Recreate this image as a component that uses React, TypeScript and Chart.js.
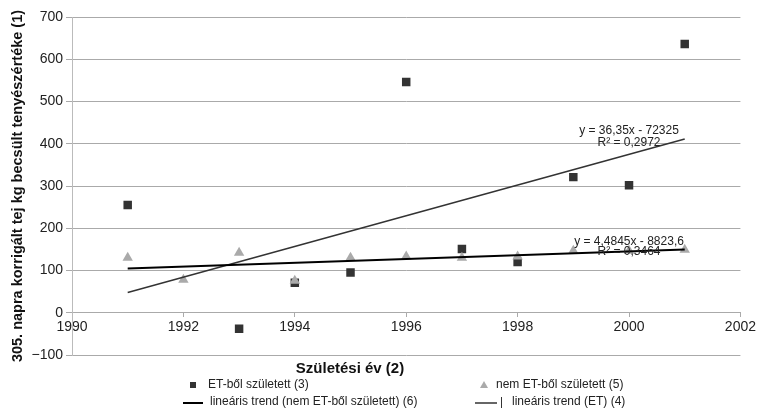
import { useEffect, useRef } from 'react';
import { Chart, registerables } from 'chart.js';
Chart.register(...registerables);

// ---- data ----
const etYears = [1991, 1993, 1994, 1995, 1996, 1997, 1998, 1999, 2000, 2001];
const etValues = [255, -38, 71, 95, 546, 151, 120, 321, 302, 636];
const nonEtYears = [1991, 1992, 1993, 1994, 1995, 1996, 1997, 1998, 1999, 2000, 2001];
const nonEtValues = [130, 78, 142, 76, 130, 133, 130, 133, 147, 147, 149];
const trendYears = [1991, 2001];
const etTrendValues = [47.9, 411.4];
const nonEtTrendValues = [105.0, 149.9];
const yTicks = [-100, 0, 100, 200, 300, 400, 500, 600, 700];
const xTicks = [1990, 1992, 1994, 1996, 1998, 2000, 2002];

const yTitle = '305. napra korrigált tej kg becsült tenyészértéke (1)';
const xTitle = 'Születési év (2)';
const legendLabels = [
  'ET-ből született (3)',
  'nem ET-ből született (5)',
  'lineáris trend (nem ET-ből született) (6)',
  'lineáris trend (ET) (4)',
];
const eqLabels = [
  { text: 'y = 36,35x - 72325', x: 2000, y: 430 },
  { text: 'R² = 0,2972', x: 2000, y: 402 },
  { text: 'y = 4,4845x - 8823,6', x: 2000, y: 168 },
  { text: 'R² = 0,3464', x: 2000, y: 145 },
];

const FONT = '"Liberation Sans", Arial, sans-serif';

const extrasPlugin = {
  id: 'extras',
  afterDraw(chart: any) {
    const ctx = chart.ctx;
    const xs = chart.scales.x;
    const ys = chart.scales.y;
    ctx.save();
    // equation labels
    ctx.fillStyle = '#222';
    ctx.font = `12px ${FONT}`;
    ctx.textAlign = 'center';
    ctx.textBaseline = 'middle';
    eqLabels.forEach((l) => {
      ctx.fillText(l.text, xs.getPixelForValue(l.x), ys.getPixelForValue(l.y));
    });
    // x title
    ctx.font = `bold 15px ${FONT}`;
    ctx.fillStyle = '#111';
    ctx.fillText(xTitle, 350, 369);
    // legend
    ctx.font = `12px ${FONT}`;
    ctx.textAlign = 'left';
    // item 1: square
    ctx.fillStyle = '#333';
    ctx.fillRect(190, 382, 6, 6);
    ctx.fillStyle = '#222';
    ctx.fillText(legendLabels[0], 208, 385);
    // item 2: triangle
    ctx.fillStyle = '#aaa';
    ctx.beginPath();
    ctx.moveTo(484, 381);
    ctx.lineTo(488, 388);
    ctx.lineTo(480, 388);
    ctx.closePath();
    ctx.fill();
    ctx.fillStyle = '#222';
    ctx.fillText(legendLabels[1], 496, 385);
    // item 3: thick line
    ctx.strokeStyle = '#000';
    ctx.lineWidth = 2;
    ctx.beginPath();
    ctx.moveTo(183, 403);
    ctx.lineTo(203, 403);
    ctx.stroke();
    ctx.fillText(legendLabels[2], 210, 402);
    // item 4: thin line + bar
    ctx.strokeStyle = '#333';
    ctx.lineWidth = 1.5;
    ctx.beginPath();
    ctx.moveTo(475, 403);
    ctx.lineTo(497, 403);
    ctx.stroke();
    ctx.lineWidth = 1;
    ctx.beginPath();
    ctx.moveTo(501.5, 397);
    ctx.lineTo(501.5, 408);
    ctx.stroke();
    ctx.fillText(legendLabels[3], 512, 402);
    ctx.restore();
  },
};

export default function App() {
  const ref = useRef<HTMLCanvasElement>(null);
  useEffect(() => {
    document.body.style.margin = '0';
    const toPts = (xs: number[], vs: number[]) => xs.map((x, i) => ({ x, y: vs[i] }));
    const chart = new Chart(ref.current!, {
      type: 'scatter',
      data: {
        datasets: [
          {
            label: legendLabels[2],
            type: 'line',
            data: toPts(trendYears, nonEtTrendValues),
            borderColor: '#000',
            borderWidth: 2,
            pointRadius: 0,
            showLine: true,
            fill: false,
          } as any,
          {
            label: legendLabels[3],
            type: 'line',
            data: toPts(trendYears, etTrendValues),
            borderColor: '#333',
            borderWidth: 1.5,
            pointRadius: 0,
            showLine: true,
            fill: false,
          } as any,
          {
            label: legendLabels[1],
            data: toPts(nonEtYears, nonEtValues),
            pointStyle: 'triangle',
            pointRadius: 6,
            backgroundColor: '#aaaaaa',
            borderColor: '#aaaaaa',
            borderWidth: 0,
          },
          {
            label: legendLabels[0],
            data: toPts(etYears, etValues),
            pointStyle: 'rect',
            pointRadius: 6,
            backgroundColor: '#333333',
            borderColor: '#333333',
            borderWidth: 0,
          },
        ],
      },
      options: {
        animation: false,
        responsive: false,
        maintainAspectRatio: false,
        layout: { padding: { top: 17, right: 15, bottom: 65, left: 0 } },
        plugins: {
          legend: { display: false },
          tooltip: { enabled: false },
        },
        scales: {
          x: {
            type: 'linear',
            position: { y: 0 } as any,
            min: 1990,
            max: 2002,
            afterBuildTicks: (s: any) => {
              s.ticks = xTicks.map((v) => ({ value: v }));
            },
            ticks: {
              callback: (v: any) => String(v),
              font: { family: FONT, size: 14 },
              color: '#222',
              padding: 2,
              maxRotation: 0,
              autoSkip: false,
            },
            grid: {
              drawOnChartArea: false,
              drawTicks: true,
              tickLength: 4,
              tickColor: '#aaa',
            },
            border: { display: true, color: '#aaa', width: 1 },
          },
          y: {
            type: 'linear',
            min: -100,
            max: 700,
            afterBuildTicks: (s: any) => {
              s.ticks = yTicks.map((v) => ({ value: v }));
            },
            afterFit: (s: any) => {
              s.width = 72;
            },
            ticks: {
              callback: (v: any) => (v < 0 ? '\u2212' + Math.abs(v) : String(v)),
              font: { family: FONT, size: 14 },
              color: '#222',
              padding: 3,
            },
            grid: {
              color: '#aaaaaa',
              tickColor: '#aaaaaa',
              tickLength: 6,
              lineWidth: 1,
            },
            border: { display: true, color: '#bbb', width: 1 },
            title: {
              display: true,
              text: yTitle,
              font: { family: '"Liberation Sans Narrow", "Liberation Sans", Arial, sans-serif', size: 14.5, weight: 'bold' },
              color: '#111',
              padding: { top: 9, bottom: 0 },
            },
          },
        },
      },
      plugins: [extrasPlugin],
    });
    return () => chart.destroy();
  }, []);
  return (
    <div style={{ width: 758, height: 420, background: '#fff' }}>
      <canvas ref={ref} width={758} height={420} style={{ display: 'block' }} />
    </div>
  );
}
